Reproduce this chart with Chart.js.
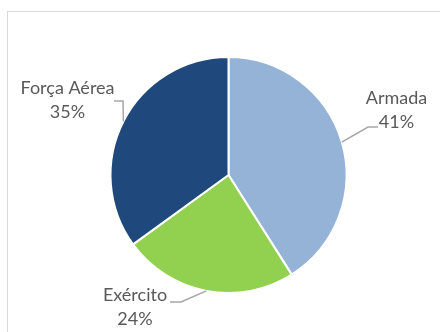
<!DOCTYPE html>
<html>
<head>
<meta charset="utf-8">
<script src="https://cdn.jsdelivr.net/npm/chart.js@4.4.1/dist/chart.umd.min.js"></script>
<style>
    html, body { margin: 0; padding: 0; background: #fff; overflow: hidden; }
    #wrap { position: relative; width: 440px; height: 332px; }
    #frame {
        position: absolute; left: 7px; top: 11px;
        width: 460px; height: 360px;
        border: 1.5px solid #d9d9d9; box-sizing: border-box;
    }
    canvas { position: absolute; left: 0; top: 0; }
</style>
</head>
<body>
<div id="wrap">
    <div id="frame"></div>
    <canvas id="pie" width="440" height="332"></canvas>
</div>
<script>
const ramos = ['Armada', 'Exército', 'Força Aérea'];
const percentagens = [41, 24, 35];
const cores = ['#95B3D7', '#92D050', '#1F497D'];

// where each label sits, relative to the pie centre (elbow of the leader, end of the leader, text centre)
const labelLayout = [
    { elbow: [139.5, -48], end: [149.5, -48], text: [168, -65] },
    { elbow: [-47.5, 127], end: [-58.5, 127], text: [-93.5, 132] },
    { elbow: [-105.5, -74], end: [-114.5, -74], text: [-161, -75] }
];

const pieLabels = {
    id: 'pieLabels',
    afterDatasetsDraw(chart) {
        const ctx = chart.ctx;
        const meta = chart.getDatasetMeta(0);
        meta.data.forEach((arc, i) => {
            const { x, y, startAngle, endAngle, outerRadius } = arc.getProps(['x', 'y', 'startAngle', 'endAngle', 'outerRadius'], true);
            const mid = (startAngle + endAngle) / 2;
            const ex = x + Math.cos(mid) * outerRadius;
            const ey = y + Math.sin(mid) * outerRadius;
            const lay = labelLayout[i];

            ctx.save();
            ctx.strokeStyle = '#a6a6a6';
            ctx.lineWidth = 1.5;
            ctx.beginPath();
            ctx.moveTo(ex, ey);
            ctx.lineTo(x + lay.elbow[0], y + lay.elbow[1]);
            ctx.lineTo(x + lay.end[0], y + lay.end[1]);
            ctx.stroke();

            ctx.fillStyle = '#595959';
            ctx.font = '18px Lato';
            ctx.textAlign = 'center';
            ctx.textBaseline = 'middle';
            const tx = x + lay.text[0];
            const ty = y + lay.text[1];
            ctx.fillText(ramos[i], tx, ty - 11.5);
            ctx.fillText(percentagens[i] + '%', tx, ty + 12);
            ctx.restore();
        });
    }
};

new Chart(document.getElementById('pie'), {
    type: 'pie',
    data: {
        labels: ramos,
        datasets: [{
            data: percentagens,
            backgroundColor: cores,
            borderColor: '#ffffff',
            borderWidth: 2,
            hoverOffset: 0
        }]
    },
    options: {
        responsive: false,
        animation: false,
        radius: 118,
        layout: { padding: { left: 30, right: 13, top: 30, bottom: 12 } },
        plugins: {
            legend: { display: false },
            tooltip: { enabled: false }
        }
    },
    plugins: [pieLabels]
});
</script>
</body>
</html>
